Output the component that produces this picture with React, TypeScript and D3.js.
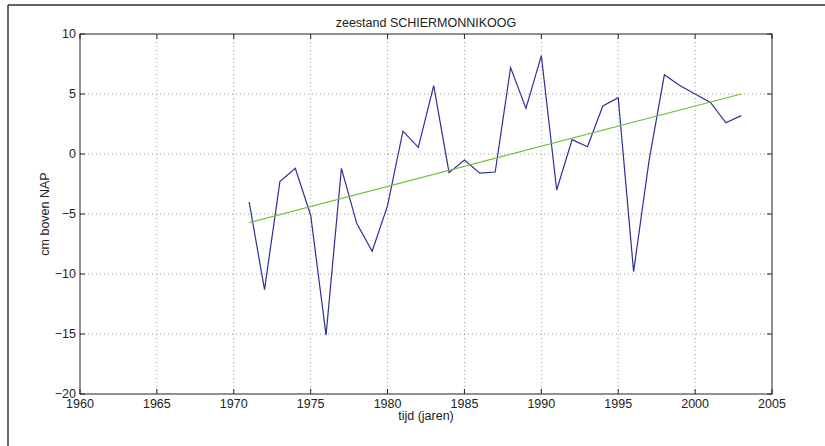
import React from "react";
import * as d3 from "d3";

const years = [1971,1972,1973,1974,1975,1976,1977,1978,1979,1980,1981,1982,1983,1984,1985,1986,1987,1988,1989,1990,1991,1992,1993,1994,1995,1996,1997,1998,1999,2000,2001,2002,2003];
const zeestand = [-4.0,-11.3,-2.3,-1.2,-5.1,-15.1,-1.2,-5.8,-8.1,-4.3,1.9,0.55,5.7,-1.55,-0.5,-1.6,-1.5,7.2,3.8,8.2,-3.0,1.2,0.6,4.0,4.7,-9.8,-0.6,6.6,5.7,5.0,4.3,2.6,3.2];
const trendYears = [1971, 2003];
const trendValues = [-5.72, 5.0];
const xTicks = [1960,1965,1970,1975,1980,1985,1990,1995,2000,2005];
const yTicks = [-20,-15,-10,-5,0,5,10];
const title = "zeestand SCHIERMONNIKOOG";
const xLabel = "tijd (jaren)";
const yLabel = "cm boven NAP";

export default function App() {
  const W = 825, H = 446;
  const L = 80, R = 772, T = 34, B = 394;
  const x = d3.scaleLinear().domain([1960, 2005]).range([L, R]);
  const y = d3.scaleLinear().domain([-20, 10]).range([B, T]);
  const line = d3.line<[number, number]>().x(d => x(d[0])).y(d => y(d[1]));
  const dataPts: [number, number][] = years.map((yr, i) => [yr, zeestand[i]]);
  const trendPts: [number, number][] = trendYears.map((yr, i) => [yr, trendValues[i]]);
  const font = "'Liberation Sans', Arial, Helvetica, sans-serif";
  const fs = 12.5;
  const tickLen = 5;
  const fmt = (v: number) => (v < 0 ? "\u2212" + Math.abs(v) : String(v));
  return (
    <svg width={W} height={H} style={{ position: "absolute", left: 0, top: 0, background: "#fff" }} fontFamily={font}>
      <rect x={0} y={0} width={W} height={H} fill="#fff" />
      {/* figure frame */}
      <line x1={8} y1={5} x2={W} y2={5} stroke="#333" strokeWidth={1.5} />
      <line x1={8} y1={5} x2={8} y2={H} stroke="#333" strokeWidth={1.5} />
      {/* grid */}
      {xTicks.slice(1, -1).map(t => (
        <line key={"gx" + t} x1={x(t)} x2={x(t)} y1={T} y2={B} stroke="#999" strokeWidth={1} strokeDasharray="1,3" />
      ))}
      {yTicks.slice(1, -1).map(t => (
        <line key={"gy" + t} x1={L} x2={R} y1={y(t)} y2={y(t)} stroke="#999" strokeWidth={1} strokeDasharray="1,3" />
      ))}
      {/* data */}
      <path d={line(dataPts) || ""} fill="none" stroke="#2e2e99" strokeWidth={1.2} />
      <path d={line(trendPts) || ""} fill="none" stroke="#6cc23c" strokeWidth={1.2} />
      {/* axes box */}
      <rect x={L} y={T} width={R - L} height={B - T} fill="none" stroke="#222" strokeWidth={1} />
      {xTicks.map(t => (
        <g key={"tx" + t}>
          <line x1={x(t)} x2={x(t)} y1={B} y2={B - tickLen} stroke="#222" />
          <line x1={x(t)} x2={x(t)} y1={T} y2={T + tickLen} stroke="#222" />
          <text x={x(t)} y={408} fontSize={fs} textAnchor="middle" fill="#222">{t}</text>
        </g>
      ))}
      {yTicks.map(t => (
        <g key={"ty" + t}>
          <line x1={L} x2={L + tickLen} y1={y(t)} y2={y(t)} stroke="#222" />
          <line x1={R} x2={R - tickLen} y1={y(t)} y2={y(t)} stroke="#222" />
          <text x={76} y={y(t) + 4} fontSize={fs} textAnchor="end" fill="#222">{fmt(t)}</text>
        </g>
      ))}
      <text x={(L + R) / 2} y={27} fontSize={fs} textAnchor="middle" fill="#222">{title}</text>
      <text x={(L + R) / 2} y={420} fontSize={fs} textAnchor="middle" fill="#222">{xLabel}</text>
      <text transform={`translate(49,${(T + B) / 2}) rotate(-90)`} fontSize={fs} textAnchor="middle" fill="#222">{yLabel}</text>
    </svg>
  );
}
